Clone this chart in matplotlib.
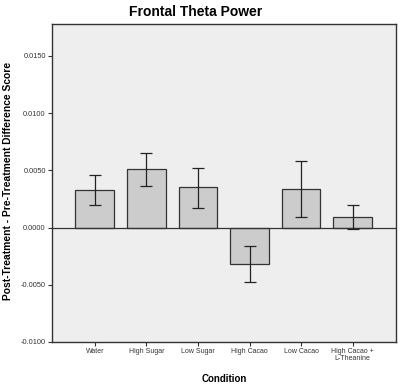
import numpy as np
import matplotlib
matplotlib.use('Agg')
import matplotlib.pyplot as plt

conditions = ['Water', 'High Sugar', 'Low Sugar', 'High Cacao', 'Low Cacao', 'High Cacao +\nL-Theanine']
means = [0.00328, 0.00512, 0.00351, -0.00321, 0.00340, 0.00096]
err_hi = [0.00460, 0.00655, 0.00521, -0.00163, 0.00585, 0.00193]
err_lo = [0.00193, 0.00366, 0.00170, -0.00476, 0.00096, -0.00010]
yticks = [-0.0100, -0.0050, 0.0000, 0.0050, 0.0100, 0.0150]

plt.rcParams['font.family'] = ['Liberation Sans', 'DejaVu Sans']

fig = plt.figure(figsize=(4.0, 3.87), dpi=100)
ax = fig.add_axes([0.13, 0.1163, 0.86, 0.822])
ax.set_facecolor('#eeeeee')

x = np.arange(len(conditions))
means = np.array(means)
yerr = np.array([means - np.array(err_lo), np.array(err_hi) - means])

ax.bar(x, means, width=0.75, color='#cccccc', edgecolor='#333333', linewidth=0.9, zorder=2)
ax.errorbar(x, means, yerr=yerr, fmt='none', ecolor='#222222', elinewidth=0.9,
            capsize=4, capthick=0.9, zorder=3)
ax.axhline(0, color='#333333', linewidth=0.9, zorder=2.5)

ax.set_xlim(-0.83, 5.84)
ax.set_ylim(-0.0100, 0.0178)
ax.set_yticks(yticks)
ax.set_yticklabels(['%.4f' % v for v in yticks], fontsize=5.3, color='#333333')
ax.set_xticks(x)
ax.set_xticklabels(conditions, fontsize=5, linespacing=0.9, color='#333333')
ax.tick_params(axis='both', direction='out', length=3, width=0.8, color='#333333', pad=1.5)
for s in ax.spines.values():
    s.set_color('#333333')
    s.set_linewidth(1.0)

fig.text(0.49, 0.968, 'Frontal Theta Power', fontsize=10, fontweight='bold',
         ha='center', va='center')
ax.set_xlabel('Condition', fontsize=7, fontweight='bold', labelpad=9)
ax.set_ylabel('Post-Treatment - Pre-Treatment Difference Score', fontsize=7.4, fontweight='bold')
ax.yaxis.set_label_coords(-0.112, 0.506)

fig.savefig('out.png', dpi=100, facecolor='white')
